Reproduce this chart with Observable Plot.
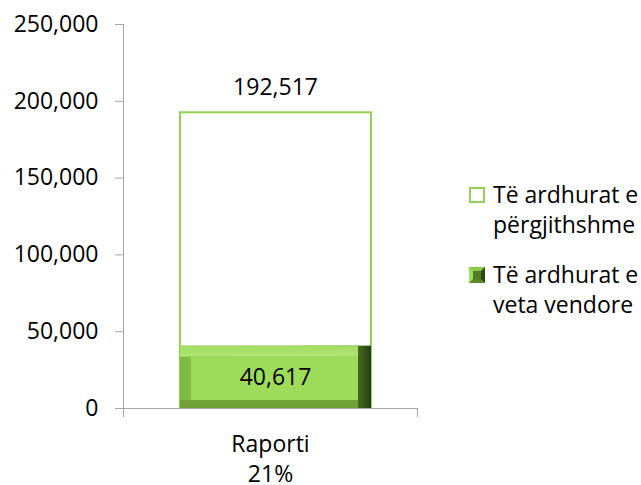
<!DOCTYPE html>
<html>
<head>
<meta charset="utf-8">
<script src="https://cdn.jsdelivr.net/npm/d3@7"></script>
<script src="https://cdn.jsdelivr.net/npm/@observablehq/plot@0.6"></script>
<style>
  html, body { margin: 0; padding: 0; background: #fff; }
  #wrap { position: relative; width: 641px; height: 485px; font-family: "Open Sans", sans-serif; }
  .lg { position: absolute; left: 469px; font-size: 23px; color: #000; line-height: 30px; }
  .lg .sw { position: absolute; left: 0; width: 16px; height: 16px; box-sizing: border-box; }
  .lg .tx { position: absolute; left: 24px; white-space: nowrap; }
</style>
</head>
<body>
<div id="wrap"></div>
<script>
const categories = ["Raporti"];
const ratioLabels = ["21%"];
const totalRevenue = [192517];
const ownRevenue = [40617];
const yTicks = [0, 50000, 100000, 150000, 200000, 250000];
const legendLines = [["Të ardhurat e", "përgjithshme"], ["Të ardhurat e", "veta vendore"]];

const data = categories.map((c, i) => ({cat: c, total: totalRevenue[i], own: ownRevenue[i], ratio: ratioLabels[i]}));
const fmt = d3.format(",");
const axisColor = "#a6a6a6";
const bx = {insetLeft: 57, insetRight: 46};

function grad(d, id, horizontal, stops) {
  const g = d.append("linearGradient").attr("id", id)
    .attr("x1", 0).attr("y1", 0).attr("x2", horizontal ? 1 : 0).attr("y2", horizontal ? 0 : 1);
  stops.forEach(([o, c]) => g.append("stop").attr("offset", o).attr("stop-color", c));
}
function defs() {
  const d = d3.create("svg:defs");
  grad(d, "rightBevel", true, [["0%", "#8ac64a"], ["55%", "#6a9c34"], ["85%", "#3f621b"], ["100%", "#263d0f"]]);
  grad(d, "topBevel", false, [["0%", "#a2dc62"], ["40%", "#bbee88"], ["100%", "#a4df64"]]);
  grad(d, "leftBevel", true, [["0%", "#7fbb42"], ["100%", "#97d455"]]);
  grad(d, "bottomBevel", false, [["0%", "#8fc84e"], ["100%", "#6d9f36"]]);
  return d.node();
}

const chart = Plot.plot({
  width: 641,
  height: 485,
  marginLeft: 123,
  marginRight: 224,
  marginTop: 24,
  marginBottom: 77,
  style: {fontFamily: "Open Sans, sans-serif", fontSize: "23px", color: "#000", background: "white", overflow: "visible"},
  x: {type: "band", domain: categories, padding: 0},
  y: {domain: [0, 250000]},
  marks: [
    defs,
    Plot.barY(data, {x: "cat", y: "total", fill: "white", stroke: "#92d050", strokeWidth: 2, ...bx}),
    // bevelled green bar, layered
    Plot.barY(data, {x: "cat", y: "own", fill: "url(#rightBevel)", insetLeft: 178, insetRight: 46}),
    Plot.barY(data, {x: "cat", y: "own", fill: "url(#bottomBevel)", insetLeft: 57, insetRight: 59}),
    Plot.barY(data, {x: "cat", y: "own", fill: "url(#topBevel)", insetLeft: 57, insetRight: 59, insetBottom: 8}),
    Plot.barY(data, {x: "cat", y: "own", fill: "url(#leftBevel)", insetLeft: 57, insetRight: 59, insetBottom: 8, insetTop: 11}),
    Plot.barY(data, {x: "cat", y: "own", fill: "#9edb5b", insetLeft: 68, insetRight: 59, insetBottom: 8, insetTop: 11}),
    Plot.frame({anchor: "left", stroke: axisColor, insetBottom: -8}),
    Plot.frame({anchor: "bottom", stroke: axisColor}),
    Plot.frame({anchor: "right", stroke: axisColor, insetTop: 384, insetBottom: -8}),
    Plot.axisY({ticks: yTicks, tickFormat: fmt, tickSize: 8, tickPadding: 17, stroke: axisColor, fill: "#000", label: null}),
    Plot.axisX({tickSize: 0, tickPadding: 22, tickFormat: (d) => d + "\n" + data.find(e => e.cat === d).ratio, lineHeight: 1.32, fill: "#000", label: null}),
    Plot.text(data, {x: "cat", y: "total", text: d => fmt(d.total), lineAnchor: "bottom", dy: -18, dx: 5, fill: "#000"}),
    Plot.text(data, {x: "cat", y: d => d.own / 2, text: d => fmt(d.own), dx: 5, dy: 0, fill: "#000"})
  ]
});

const wrap = document.getElementById("wrap");
wrap.appendChild(chart);

const legendTops = [179, 259];
const swatchTops = [187, 267];
legendLines.forEach((lines, i) => {
  const lg = document.createElement("div");
  lg.className = "lg";
  lg.style.top = "0px";
  const sw = document.createElement("div");
  sw.className = "sw";
  sw.style.top = swatchTops[i] + "px";
  if (i === 0) {
    sw.style.border = "2px solid #92d050";
    sw.style.background = "#fff";
  } else {
    sw.style.borderStyle = "solid";
    sw.style.borderWidth = "4px";
    sw.style.borderColor = "#8cc84c #2c4712 #5a8a2a #9edb5b";
    sw.style.background = "#4f7f22";
  }
  lg.appendChild(sw);
  const tx = document.createElement("div");
  tx.className = "tx";
  tx.style.top = legendTops[i] + "px";
  tx.innerHTML = lines.join("<br>");
  lg.appendChild(tx);
  wrap.appendChild(lg);
});
</script>
</body>
</html>
